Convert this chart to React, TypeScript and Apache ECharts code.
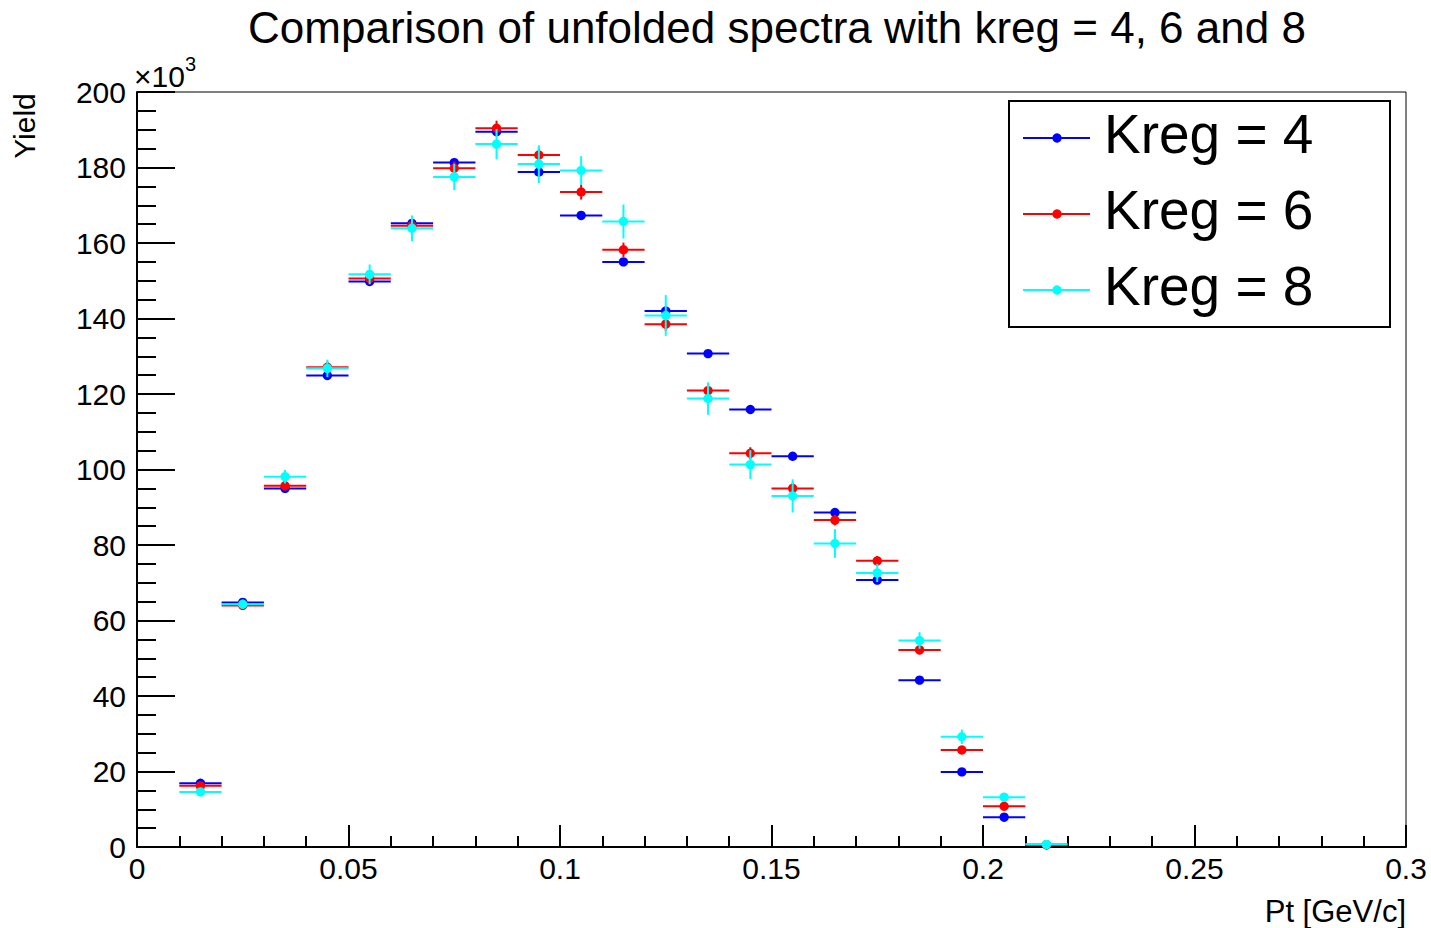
import React, { useEffect, useRef } from "react";
import * as echarts from "echarts";

// Unfolded Pt spectra (yield in units of 10^3) for three regularisation parameters.
const BIN_WIDTH = 0.01;
const binCenters = [
  0.015, 0.025, 0.035, 0.045, 0.055, 0.065, 0.075, 0.085, 0.095, 0.105, 0.115,
  0.125, 0.135, 0.145, 0.155, 0.165, 0.175, 0.185, 0.195, 0.205, 0.215,
];

const kreg4Yield = [
  16.9, 64.8, 95.0, 124.9, 149.8, 165.2, 181.3, 189.5, 178.8, 167.3, 155.0,
  142.0, 130.7, 115.9, 103.5, 88.6, 70.7, 44.2, 19.9, 7.9, 0.6,
];
const kreg4Error = [
  0.5, 0.9, 1.0, 1.1, 1.2, 1.2, 1.2, 1.2, 1.1, 1.0, 1.0,
  1.0, 0.9, 0.9, 0.8, 0.8, 0.7, 0.6, 0.5, 0.3, 0.1,
];

const kreg6Yield = [
  16.2, 64.0, 95.7, 127.1, 150.6, 164.6, 179.8, 190.4, 183.3, 173.5, 158.2,
  138.5, 120.9, 104.3, 95.0, 86.6, 75.8, 52.2, 25.7, 10.8, 0.6,
];
const kreg6Error = [
  0.6, 1.0, 1.2, 1.5, 1.6, 1.7, 1.8, 2.0, 2.0, 2.0, 1.9,
  1.8, 1.7, 1.6, 1.5, 1.4, 1.3, 1.1, 0.8, 0.5, 0.2,
];

const kreg8Yield = [
  14.6, 64.3, 98.1, 126.8, 151.7, 163.9, 177.5, 186.2, 180.9, 179.2, 165.7,
  140.8, 118.8, 101.3, 93.0, 80.4, 72.6, 54.7, 29.2, 13.2, 0.7,
];
const kreg8Error = [
  0.8, 1.2, 1.8, 2.3, 2.6, 3.4, 3.5, 4.0, 5.0, 3.8, 4.5,
  5.4, 4.3, 3.8, 4.4, 3.8, 2.4, 2.2, 1.9, 1.0, 0.3,
];

const seriesNames = ["Kreg = 4", "Kreg = 6", "Kreg = 8"];
const seriesColors = ["#0000ff", "#ff0000", "#00ffff"];
const seriesYields = [kreg4Yield, kreg6Yield, kreg8Yield];
const seriesErrors = [kreg4Error, kreg6Error, kreg8Error];

const xTickMax = 0.3;
const xTickStep = 0.05;
const yTickMax = 200;
const yTickStep = 20;

const FONT = "'Liberation Sans', Arial, Helvetica, sans-serif";
const MARKER_R = 4.7;

function buildOption(): echarts.EChartsOption {
  const series = seriesNames.map((name, si) => ({
    type: "custom" as const,
    name,
    data: binCenters.map((x, i) => [x, seriesYields[si][i], seriesErrors[si][i]]),
    encode: { x: 0, y: 1 },
    z: 10 + si,
    renderItem: (_params: any, api: any) => {
      const x = api.value(0);
      const y = api.value(1);
      const e = api.value(2);
      const color = seriesColors[si];
      const c = api.coord([x, y]);
      const l = api.coord([x - BIN_WIDTH / 2, y]);
      const r = api.coord([x + BIN_WIDTH / 2, y]);
      const t = api.coord([x, y + e]);
      const b = api.coord([x, Math.max(0, y - e)]);
      return {
        type: "group",
        children: [
          {
            type: "line",
            shape: { x1: l[0], y1: l[1], x2: r[0], y2: r[1] },
            style: { stroke: color, lineWidth: 2 },
          },
          {
            type: "line",
            shape: { x1: t[0], y1: t[1], x2: b[0], y2: b[1] },
            style: { stroke: color, lineWidth: 2 },
          },
          {
            type: "circle",
            shape: { cx: c[0], cy: c[1], r: MARKER_R },
            style: { fill: color },
          },
        ],
      };
    },
  }));

  // Legend box with line + marker samples
  const legendLeft = 1009;
  const legendTop = 101;
  const rowGap = 76;
  const legendChildren: any[] = [
    {
      type: "rect",
      shape: { x: legendLeft, y: legendTop, width: 381, height: 226 },
      style: { fill: "#ffffff", stroke: "#000000", lineWidth: 2 },
    },
  ];
  seriesNames.forEach((name, i) => {
    const yRow = 138 + i * rowGap;
    legendChildren.push(
      {
        type: "line",
        shape: { x1: 1023, y1: yRow, x2: 1090, y2: yRow },
        style: { stroke: seriesColors[i], lineWidth: 2 },
      },
      {
        type: "circle",
        shape: { cx: 1057, cy: yRow, r: MARKER_R },
        style: { fill: seriesColors[i] },
      },
      {
        type: "text",
        x: 1104,
        y: yRow - 4,
        style: {
          text: name,
          fontSize: 55,
          fontFamily: FONT,
          fill: "#000000",
          align: "left",
          verticalAlign: "middle",
        },
      }
    );
  });

  return {
    animation: false,
    backgroundColor: "#ffffff",
    textStyle: { fontFamily: FONT, color: "#000000" },
    title: {
      text: "Comparison of unfolded spectra with kreg = 4, 6 and 8",
      left: 772,
      top: 0,
      textAlign: "center",
      textStyle: {
        fontSize: 44,
        fontWeight: "normal",
        fontFamily: FONT,
        color: "#000000",
      },
    },
    grid: {
      left: 137,
      right: 25,
      top: 92,
      bottom: 81,
      show: true,
      borderColor: "#000000",
      borderWidth: 1,
      backgroundColor: "transparent",
    },
    xAxis: {
      type: "value",
      min: 0,
      max: xTickMax,
      interval: xTickStep,
      axisLine: { show: true, lineStyle: { color: "#000000", width: 2 } },
      axisTick: {
        show: true,
        inside: true,
        length: 22,
        lineStyle: { color: "#000000", width: 2 },
      },
      minorTick: {
        show: true,
        splitNumber: 5,
        length: 11,
        lineStyle: { color: "#000000", width: 2 },
      },
      splitLine: { show: false },
      minorSplitLine: { show: false },
      axisLabel: {
        fontSize: 30,
        color: "#000000",
        fontFamily: FONT,
        margin: 6,
      },
    },
    yAxis: {
      type: "value",
      min: 0,
      max: yTickMax,
      interval: yTickStep,
      axisLine: { show: true, lineStyle: { color: "#000000", width: 2 } },
      axisTick: {
        show: true,
        inside: true,
        length: 38,
        lineStyle: { color: "#000000", width: 2 },
      },
      minorTick: {
        show: true,
        splitNumber: 4,
        length: 19,
        lineStyle: { color: "#000000", width: 2 },
      },
      splitLine: { show: false },
      minorSplitLine: { show: false },
      axisLabel: {
        fontSize: 30,
        color: "#000000",
        fontFamily: FONT,
        margin: 11,
      },
    },
    graphic: [
      {
        type: "text",
        x: 24,
        y: 126,
        rotation: Math.PI / 2,
        style: {
          text: "Yield",
          fontSize: 30,
          fontFamily: FONT,
          fill: "#000000",
          align: "center",
          verticalAlign: "middle",
        },
      },
      {
        type: "text",
        x: 1406,
        y: 911,
        style: {
          text: "Pt [GeV/c]",
          fontSize: 31,
          fontFamily: FONT,
          fill: "#000000",
          align: "right",
          verticalAlign: "middle",
        },
      },
      {
        type: "text",
        x: 134,
        y: 76,
        style: {
          text: "×10",
          fontSize: 30,
          fontFamily: FONT,
          fill: "#000000",
          align: "left",
          verticalAlign: "middle",
        },
      },
      {
        type: "text",
        x: 185,
        y: 64,
        style: {
          text: "3",
          fontSize: 20,
          fontFamily: FONT,
          fill: "#000000",
          align: "left",
          verticalAlign: "middle",
        },
      },
      { type: "group", children: legendChildren },
    ],
    series,
  } as echarts.EChartsOption;
}

export default function App() {
  const ref = useRef<HTMLDivElement>(null);

  useEffect(() => {
    if (!ref.current) return;
    const chart = echarts.init(ref.current, undefined, { renderer: "svg" });
    chart.setOption(buildOption());
    return () => {
      chart.dispose();
    };
  }, []);

  return (
    <div
      ref={ref}
      style={{
        position: "fixed",
        left: 0,
        top: 0,
        width: 1431,
        height: 928,
        background: "#ffffff",
      }}
    />
  );
}
